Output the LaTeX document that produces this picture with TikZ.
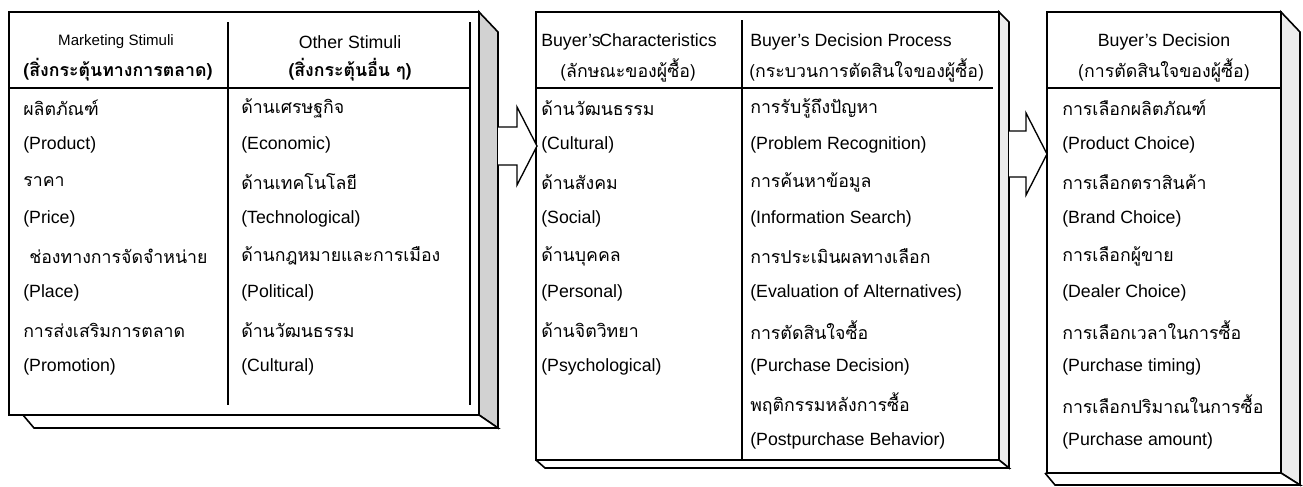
\documentclass[tikz,border=0pt]{standalone}
\usepackage{fontspec}
\setmainfont{Liberation Sans}
\newfontfamily\thaifont[Script=Thai]{Loma}
\usetikzlibrary{calc}

\tikzset{
  frame/.style={draw, line width=1.2pt},
  sideface/.style={draw, line width=1.2pt, fill=#1, line join=miter},
  divider/.style={line width=1pt},
  row/.style={anchor=west, inner sep=0pt},
  head/.style={inner sep=0pt},
  blockarrow/.style={draw, line width=1pt, fill=white, line join=miter},
}

\begin{document}
\begin{tikzpicture}[x=0.75pt, y=-0.75pt, font=\fontsize{13.3}{16}\selectfont]
\useasboundingbox (0,0) rectangle (1303,486);

% stimuli box
\coordinate (s1nw) at (9,12);
\coordinate (s1se) at (479,415);
\draw[sideface=gray!35] (479,12) -- (498,32) -- (498,428) -- (479,415) -- cycle;
\draw[sideface=white] (23,415) -- (34,428) -- (498,428) -- (479,415);
\draw[frame] (s1nw) rectangle (s1se);
\draw[divider] (470,22) -- (470,405);
\draw[divider] (228,22) -- (228,405);
\draw[divider] (9,88) -- (470,88);

\node[head, font=\fontsize{11.3}{14}\selectfont] (mkt) at (116,42) {Marketing Stimuli};
\node[head] (mktth) at (118,70) {\thaifont\bfseries (สิ่งกระตุ้นทางการตลาด)};
\node[head] (oth) at (350,42) {Other Stimuli};
\node[head] (othth) at (350,70) {\thaifont\bfseries (สิ่งกระตุ้นอื่น ๆ)};

\foreach \t [count=\i] in {ผลิตภัณฑ์,(Product),ราคา,(Price),ช่องทางการจัดจำหน่าย,(Place),การส่งเสริมการตลาด,(Promotion)}
  \node[row] (mk-\i) at ({23+6*(\i==5)},{71+37*\i}) {\ifodd\i\relax\thaifont\fi\t};
\foreach \t [count=\i] in {ด้านเศรษฐกิจ,(Economic),ด้านเทคโนโลยี,(Technological),ด้านกฎหมายและการเมือง,(Political),ด้านวัฒนธรรม,(Cultural)}
  \node[row] (ot-\i) at (241,{71+37*\i}) {\ifodd\i\relax\thaifont\fi\t};

% buyer's black box
\coordinate (s2nw) at (536,12);
\coordinate (s2se) at (999,460);
\draw[sideface=gray!15] (999,12) -- (1009,22) -- (1009,468) -- (999,460) -- cycle;
\draw[sideface=white] (536,460) -- (545,468) -- (1009,468) -- (999,460);
\draw[frame] (s2nw) rectangle (s2se);
\draw[divider] (742,20) -- (742,460);
\draw[divider] (536,88) -- (993,88);

\node[head, anchor=west] (chr) at (541,42) {Buyer's\kern-1ptCharacteristics};
\node[head, anchor=west] (chrth) at (560,70) {\thaifont (ลักษณะของผู้ซื้อ)};
\node[head, anchor=west] (proc) at (750,42) {Buyer's Decision Process};
\node[head, anchor=west] (procth) at (749,70) {\thaifont (กระบวนการตัดสินใจของผู้ซื้อ)};

\foreach \t [count=\i] in {ด้านวัฒนธรรม,(Cultural),ด้านสังคม,(Social),ด้านบุคคล,(Personal),ด้านจิตวิทยา,(Psychological)}
  \node[row] (ch-\i) at (541,{71+37*\i}) {\ifodd\i\relax\thaifont\fi\t};
\foreach \t [count=\i] in {การรับรู้ถึงปัญหา,(Problem Recognition),การค้นหาข้อมูล,(Information Search),การประเมินผลทางเลือก,(Evaluation of Alternatives),การตัดสินใจซื้อ,(Purchase Decision),พฤติกรรมหลังการซื้อ,(Postpurchase Behavior)}
  \node[row] (pr-\i) at (750,{71+37*\i}) {\ifodd\i\relax\thaifont\fi\t};

% decision box
\coordinate (s3nw) at (1047,12);
\coordinate (s3se) at (1281,473);
\draw[sideface=gray!15] (1281,12) -- (1300,32) -- (1300,485) -- (1281,473) -- cycle;
\draw[sideface=white] (1045,473) -- (1055,485) -- (1300,485) -- (1281,473);
\draw[frame] (s3nw) rectangle (s3se);
\draw[divider] (1047,88) -- (1281,88);

\node[head] (dec) at (1164,42) {Buyer's Decision};
\node[head] (decth) at (1164,70) {\thaifont (การตัดสินใจของผู้ซื้อ)};

\foreach \t [count=\i] in {การเลือกผลิตภัณฑ์,(Product Choice),การเลือกตราสินค้า,(Brand Choice),การเลือกผู้ขาย,(Dealer Choice),การเลือกเวลาในการซื้อ,(Purchase timing),การเลือกปริมาณในการซื้อ,(Purchase amount)}
  \node[row] (dc-\i) at (1062,{71+37*\i}) {\ifodd\i\relax\thaifont\fi\t};

% arrows between the boxes
\coordinate (a1) at (498,146);
\coordinate (a1tip) at (537,146);
\draw[blockarrow] ($(a1)+(0,-19)$) -- ++(19,0) -- ++(0,-20) -- (a1tip)
  -- ($(a1)+(19,39)$) -- ++(0,-20) -- ($(a1)+(0,19)$);
\coordinate (a2) at (1009,154);
\coordinate (a2tip) at (1047,154);
\draw[blockarrow] ($(a2)+(0,-23)$) -- ++(17,0) -- ++(0,-18) -- (a2tip)
  -- ($(a2)+(17,41)$) -- ++(0,-18) -- ($(a2)+(0,23)$);
\end{tikzpicture}
\end{document}
